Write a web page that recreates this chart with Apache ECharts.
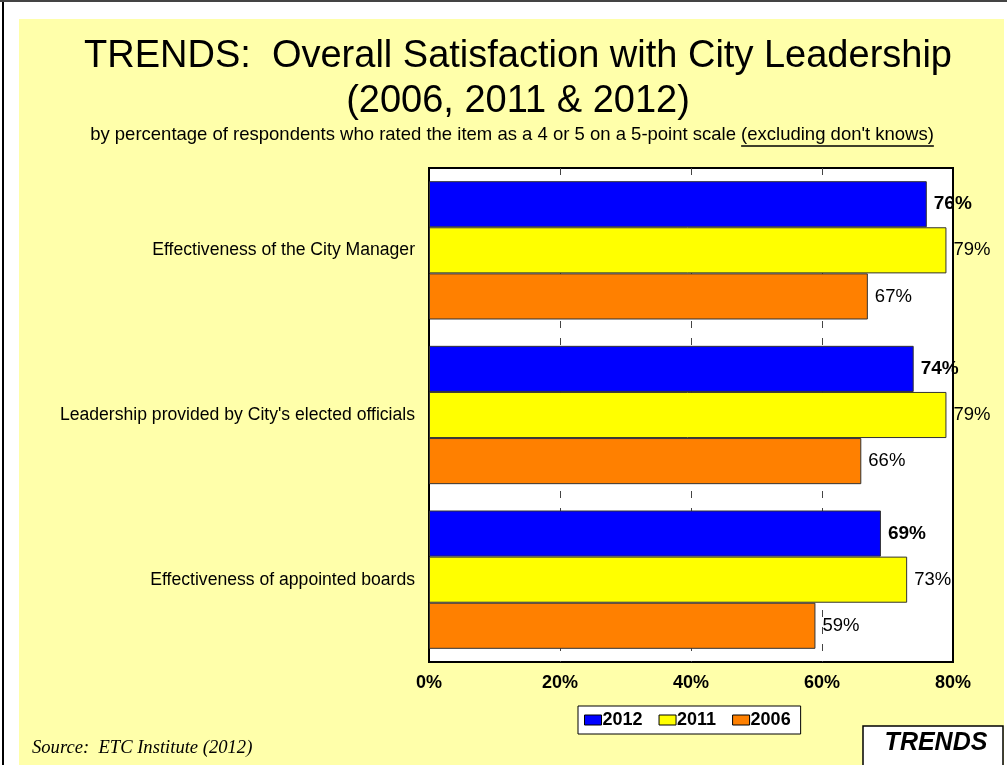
<!DOCTYPE html>
<html>
<head>
<meta charset="utf-8">
<script src="https://cdn.jsdelivr.net/npm/echarts@6/dist/echarts.min.js"></script>
<style>
  html, body { margin: 0; padding: 0; background: #fff; }
  #chart { width: 1007px; height: 765px; }
</style>
</head>
<body>
<div id="chart"></div>
<script>
// categories (top to bottom) and survey values
var categories = ['Effectiveness of the City Manager', "Leadership provided by City's elected officials", 'Effectiveness of appointed boards'];
var years = ['2012', '2011', '2006'];
var values2012 = [76, 74, 69];
var values2011 = [79, 79, 73];
var values2006 = [67, 66, 59];
var xTicks = [0, 20, 40, 60, 80];

var FONT = '"Liberation Sans", Arial, sans-serif';

// measure subtitle parts so the underline sits under the second part
var subA = "by percentage of respondents who rated the item as a 4 or 5 on a 5-point scale ";
var subB = "(excluding don't knows)";
var SUB_FONT = '18.5px ' + FONT;
var ctx = document.createElement('canvas').getContext('2d');
ctx.font = SUB_FONT;
var wA = ctx.measureText(subA).width;
var wB = ctx.measureText(subB).width;
var subLeft = 512 - (wA + wB) / 2;

var chartDom = document.getElementById('chart');
var myChart = echarts.init(chartDom, null, { renderer: 'canvas' });

function barSeries(name, data, color, bold) {
    return {
        name: name,
        type: 'bar',
        data: data,
        barCategoryGap: '16%',
        barGap: '0%',
        itemStyle: { color: color, borderColor: '#333', borderWidth: 1 },
        label: {
            show: true,
            position: 'right',
            distance: 7,
            formatter: '{c}%',
            fontFamily: FONT,
            fontSize: bold ? 19 : 18.5,
            fontWeight: bold ? 'bold' : 'normal',
            color: '#000'
        },
        emphasis: { disabled: true },
        z: 3
    };
}

var option = {
    backgroundColor: '#fff',
    animation: false,
    title: {
        text: 'TRENDS:  Overall Satisfaction with City Leadership\n(2006, 2011 & 2012)',
        left: 513,
        top: 29,
        textAlign: 'center',
        textStyle: {
            fontFamily: FONT,
            fontSize: 38,
            fontWeight: 'normal',
            lineHeight: 45,
            color: '#000'
        }
    },
    legend: {
        data: years,
        left: 578,
        top: 706,
        icon: 'rect',
        itemWidth: 17,
        itemHeight: 10,
        itemGap: 16,
        backgroundColor: '#fff',
        borderColor: '#000',
        borderWidth: 1,
        borderRadius: 0,
        padding: [5, 10, 5, 6],
        itemStyle: { borderColor: '#000', borderWidth: 1 },
        textStyle: { fontFamily: FONT, fontSize: 18, fontWeight: 'bold', color: '#000', padding: [0, 0, 0, -4] }
    },
    grid: {
        left: 429,
        top: 168,
        right: 54,
        bottom: 103,
        show: true,
        backgroundColor: '#fff',
        borderColor: '#000',
        borderWidth: 2
    },
    xAxis: {
        type: 'value',
        min: xTicks[0],
        max: xTicks[xTicks.length - 1],
        interval: 20,
        axisLine: { show: false },
        axisTick: { show: false },
        axisLabel: {
            formatter: '{value}%',
            fontFamily: FONT,
            fontSize: 18,
            fontWeight: 'bold',
            color: '#000',
            margin: 12
        },
        splitLine: {
            show: true,
            showMinLine: false,
            showMaxLine: false,
            lineStyle: { color: '#444', type: [7, 10], width: 1 }
        }
    },
    yAxis: {
        type: 'category',
        data: categories,
        inverse: true,
        axisLine: { show: false },
        axisTick: { show: false },
        axisLabel: {
            fontFamily: FONT,
            fontSize: 17.6,
            color: '#000',
            margin: 14
        }
    },
    series: [
        barSeries(years[0], values2012, '#0000FF', true),
        barSeries(years[1], values2011, '#FFFF00', false),
        barSeries(years[2], values2006, '#FF8000', false)
    ],
    graphic: [
        { type: 'rect', z: -10, shape: { x: 19, y: 19, width: 985, height: 760 }, style: { fill: '#FFFFAA' }, silent: true },
        { type: 'line', z: -9, shape: { x1: 3, y1: 0, x2: 3, y2: 765 }, style: { stroke: '#000', lineWidth: 2 }, silent: true },
        { type: 'line', z: -9, shape: { x1: 0, y1: 1, x2: 1007, y2: 1 }, style: { stroke: '#444', lineWidth: 2 }, silent: true },
        { type: 'text', x: subLeft, y: 135, style: { text: subA, font: SUB_FONT, fill: '#000', textVerticalAlign: 'middle' } },
        { type: 'text', x: subLeft + wA, y: 135, style: { text: subB, font: SUB_FONT, fill: '#000', textVerticalAlign: 'middle' } },
        { type: 'line', shape: { x1: subLeft + wA, y1: 146, x2: subLeft + wA + wB, y2: 146 }, style: { stroke: '#000', lineWidth: 1.5 } },
        { type: 'text', x: 32, y: 748, style: { text: 'Source:  ETC Institute (2012)', font: 'italic 18.6px "Liberation Serif", "Times New Roman", serif', fill: '#000', textVerticalAlign: 'middle' } },
        { type: 'rect', shape: { x: 863, y: 726, width: 140, height: 50 }, style: { fill: '#fff', stroke: '#000', lineWidth: 1.5 } },
        { type: 'text', x: 936, y: 743, style: { text: 'TRENDS', font: 'italic bold 25px ' + FONT, fill: '#000', textAlign: 'center', textVerticalAlign: 'middle' } }
    ]
};

option && myChart.setOption(option);
</script>
</body>
</html>
